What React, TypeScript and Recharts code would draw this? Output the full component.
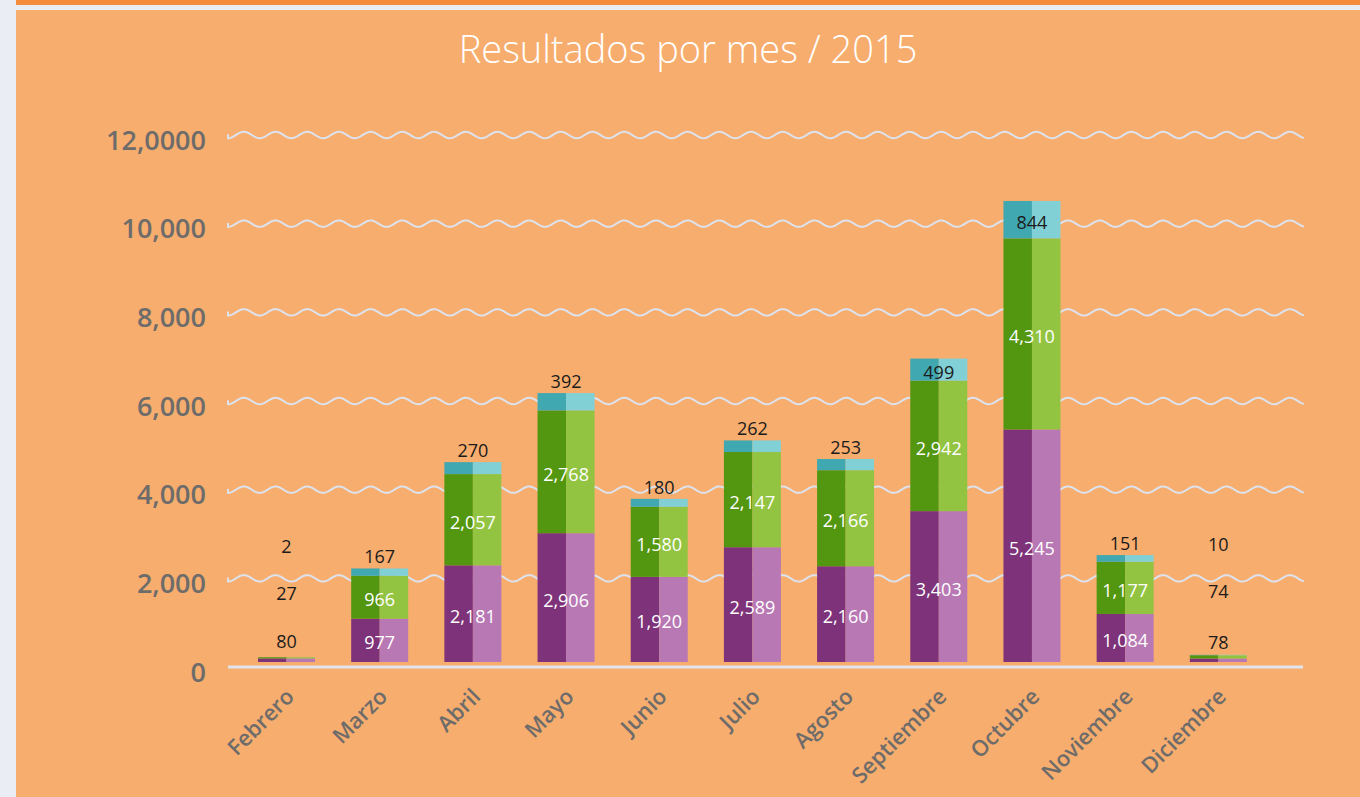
import { Bar, BarChart, CartesianGrid, LabelList, XAxis, YAxis } from "recharts";

const categories = [
  "Febrero",
  "Marzo",
  "Abril",
  "Mayo",
  "Junio",
  "Julio",
  "Agosto",
  "Septiembre",
  "Octubre",
  "Noviembre",
  "Diciembre",
];
const purpleValues = [80, 977, 2181, 2906, 1920, 2589, 2160, 3403, 5245, 1084, 78];
const greenValues = [27, 966, 2057, 2768, 1580, 2147, 2166, 2942, 4310, 1177, 74];
const tealValues = [2, 167, 270, 392, 180, 262, 253, 499, 844, 151, 10];
const yTicks = [0, 2000, 4000, 6000, 8000, 10000, 12000];
const yTickLabels = ["0", "2,000", "4,000", "6,000", "8,000", "10,000", "12,0000"];

const seriesValues = [purpleValues, greenValues, tealValues];

const data = categories.map((mes, i) => ({
  mes,
  morado: purpleValues[i],
  verde: greenValues[i],
  azul: tealValues[i],
}));

const FONT = "'Open Sans', sans-serif";
const GRID_SHIFT = 5;

const twoTone = (dark: string, light: string) => (props: any) => {
  const { x, y, width, height } = props;
  if (!height || height <= 0) return <g />;
  const half = width / 2;
  return (
    <g>
      <rect x={x} y={y} width={half} height={height} fill={dark} />
      <rect x={x + half} y={y} width={width - half} height={height} fill={light} />
    </g>
  );
};

const makeLabel = (series: number, insideColor: string) => (props: any) => {
  const { x, y, width, height, index, value } = props;
  const v = Number(value);
  const fmt = v.toLocaleString("en-US");
  const cx = x + width / 2;
  if (height >= 20) {
    return (
      <text
        x={cx}
        y={y + height / 2 + 2}
        textAnchor="middle"
        dominantBaseline="central"
        fill={insideColor}
        fontFamily={FONT}
        fontSize={18}
      >
        {fmt}
      </text>
    );
  }
  const ratio = v > 0 ? height / v : 0;
  let small = 0;
  for (let k = 0; k < series; k++) {
    if (seriesValues[k][index] * ratio < 20) small++;
  }
  const lift = small > 0 || series === 0 ? 17 : 12;
  return (
    <text
      x={cx}
      y={y - lift - 47 * small}
      textAnchor="middle"
      dominantBaseline="central"
      fill="#1b1b1b"
      fontFamily={FONT}
      fontSize={18}
    >
      {fmt}
    </text>
  );
};

const wavyLine = (props: any) => {
  const { x1, x2, y1, y, height, index } = props;
  const yy = y1 + GRID_SHIFT;
  if (Math.abs(y1 - (y + height)) < 1) {
    return (
      <line
        key={`g-${index}`}
        x1={x1}
        x2={x2}
        y1={yy}
        y2={yy}
        stroke="#dfe4ee"
        strokeWidth={3}
      />
    );
  }
  const period = 31.7;
  const amp = 3.2;
  let d = `M ${x1} ${yy}`;
  for (let px = x1; px <= x2; px += 1) {
    const t = ((px - x1) / period) * Math.PI * 2;
    d += ` L ${px} ${yy + amp * Math.cos(t)}`;
  }
  return (
    <path
      key={`g-${index}`}
      d={d}
      fill="none"
      stroke="#dde3ee"
      strokeWidth={2}
      strokeLinecap="round"
    />
  );
};

const YTick = (props: any) => {
  const { x, y, payload } = props;
  const idx = yTicks.indexOf(payload.value);
  return (
    <text
      x={x - 14}
      y={y + GRID_SHIFT + 4}
      textAnchor="end"
      dominantBaseline="central"
      fill="#6e6c6a"
      fontFamily={FONT}
      fontWeight={600}
      fontSize={27}
    >
      {yTickLabels[idx]}
    </text>
  );
};

const XTick = (props: any) => {
  const { x, y, payload } = props;
  const ax = x + 9;
  const ay = y + 28;
  return (
    <text
      x={ax}
      y={ay}
      textAnchor="end"
      transform={`rotate(-45, ${ax}, ${ay})`}
      fill="#6e6c6a"
      fontFamily={FONT}
      fontWeight={600}
      fontSize={22}
    >
      {payload.value}
    </text>
  );
};

export default function App() {
  return (
    <div
      style={{
        position: "absolute",
        left: 0,
        top: 0,
        width: 1360,
        height: 797,
        background: "#eaedf3",
        overflow: "hidden",
      }}
    >
      <div
        style={{
          position: "absolute",
          left: 16,
          top: 0,
          width: 1344,
          height: 5,
          background: "#f58c3a",
        }}
      />
      <div
        style={{
          position: "absolute",
          left: 16,
          top: 10,
          width: 1344,
          height: 787,
          background: "#f7ad6e",
        }}
      >
        <div
          style={{
            position: "absolute",
            left: 0,
            top: 18,
            width: 1344,
            textAlign: "center",
            color: "#ffffff",
            fontFamily: FONT,
            fontWeight: 300,
            fontSize: 38,
            lineHeight: "40px",
          }}
        >
          Resultados por mes / 2015
        </div>
        <div style={{ position: "absolute", left: 0, top: 0 }}>
          <BarChart
            width={1344}
            height={787}
            data={data}
            margin={{ top: 120, right: 57, left: 92, bottom: 35 }}
          >
            <CartesianGrid vertical={false} horizontal={wavyLine} />
            <XAxis
              dataKey="mes"
              axisLine={false}
              tickLine={false}
              interval={0}
              height={100}
              padding={{ left: 12, right: 38 }}
              tick={<XTick />}
            />
            <YAxis
              width={120}
              domain={[0, 12000]}
              ticks={yTicks}
              axisLine={false}
              tickLine={false}
              tick={<YTick />}
            />
            <Bar
              dataKey="morado"
              stackId="a"
              barSize={57}
              isAnimationActive={false}
              shape={twoTone("#7e3279", "#b878b4")}
            >
              <LabelList dataKey="morado" content={makeLabel(0, "#ffffff")} />
            </Bar>
            <Bar
              dataKey="verde"
              stackId="a"
              barSize={57}
              isAnimationActive={false}
              shape={twoTone("#53960f", "#92c442")}
            >
              <LabelList dataKey="verde" content={makeLabel(1, "#ffffff")} />
            </Bar>
            <Bar
              dataKey="azul"
              stackId="a"
              barSize={57}
              isAnimationActive={false}
              shape={twoTone("#40a8b1", "#80d0d5")}
            >
              <LabelList dataKey="azul" content={makeLabel(2, "#1b1b1b")} />
            </Bar>
          </BarChart>
        </div>
      </div>
    </div>
  );
}
